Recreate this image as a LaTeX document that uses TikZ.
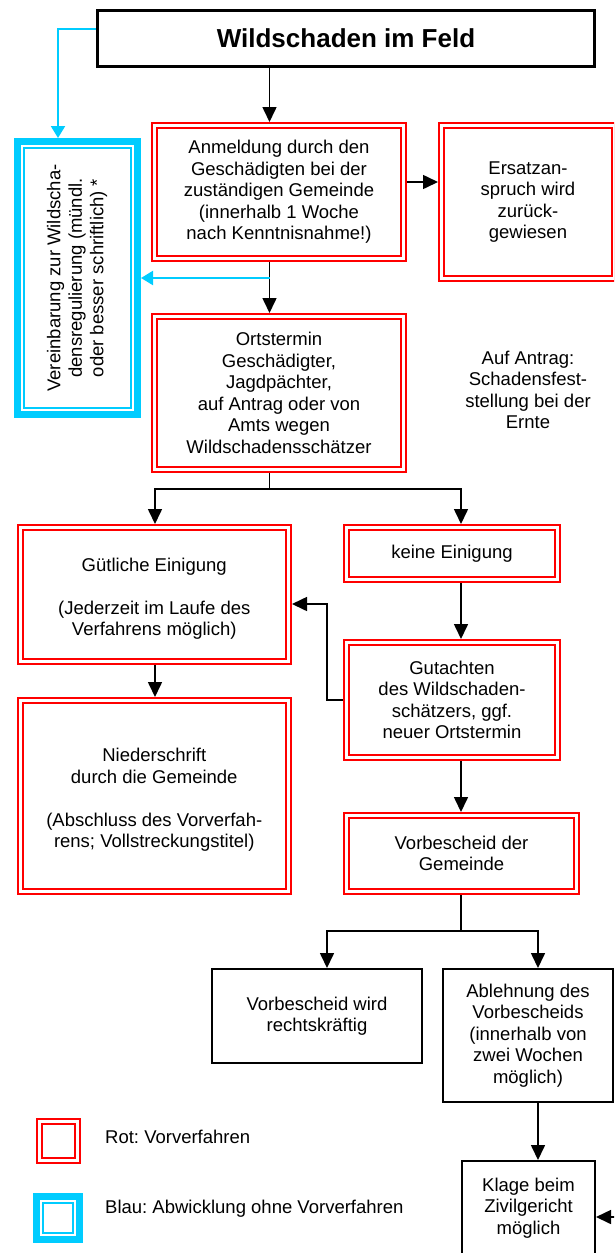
\documentclass[tikz,border=0pt]{standalone}
\usepackage{fontspec}
\setmainfont{Liberation Sans}
\frenchspacing
\usetikzlibrary{arrows.meta}
\definecolor{skyb}{RGB}{0,204,255}
\tikzset{
  txt/.style={font=\fontsize{18.5}{21.5}\selectfont\frenchspacing, align=center, inner sep=0pt},
  titlebox/.style={draw=black, line width=2.7pt, outer sep=1.35pt, inner sep=0pt, font=\fontsize{26}{30}\selectfont\bfseries},
  redbox/.style={txt, draw=red, line width=2.3pt, double=white, double distance=2.7pt, outer sep=3.65pt},
  blackbox/.style={txt, draw=black, line width=2pt, outer sep=1pt},
  bluebox/.style={font=\fontsize{18.5}{21.5}\selectfont\frenchspacing, inner sep=0pt, draw=skyb, line width=7pt, outer sep=3.5pt},
  bluein/.style={draw=skyb, line width=2pt},
  arr/.style={draw=black, line width=1.6pt, -{Triangle[length=15pt,width=14pt]}},
  plainline/.style={draw=black, line width=1.6pt},
  barr/.style={draw=skyb, line width=2.2pt, -{Triangle[length=12pt,width=14pt]}}
}
\begin{document}
\begin{tikzpicture}[x=1pt,y=-1pt]
\useasboundingbox (0,0) rectangle (614,1253);
\clip (0,0) rectangle (614,1253);

% nodes
\node[titlebox, minimum width=497.3pt, minimum height=56.3pt] (title) at (346,38.5) {Wildschaden im Feld};
\node[redbox, minimum width=248.7pt, minimum height=132.7pt] (anm) at (279,192) {Anmeldung durch den\\Geschädigten bei der\\zuständigen Gemeinde\\(innerhalb 1 Woche\\nach Kenntnisnahme!)};
\node[redbox, minimum width=172.7pt, minimum height=152.7pt] (ers) at (528,202) {Ersatzan-\\spruch wird\\zurück-\\gewiesen};
\node[bluebox, minimum width=120pt, minimum height=273pt] (blue) at (77.5,278) {\rotatebox{90}{\begin{tabular}{@{}c@{}}Vereinbarung zur Wildscha-\\densregulierung (mündl.\\oder besser schriftlich) *\end{tabular}}};
\draw[bluein] ([shift={(10,10)}]blue.north west) rectangle ([shift={(-10,-10)}]blue.south east);
\node[redbox, minimum width=248.7pt, minimum height=152.7pt] (ort) at (279,393) {Ortstermin\\Geschädigter,\\Jagdpächter,\\auf Antrag oder von\\Amts wegen\\Wildschadensschätzer};
\node[txt] (antrag) at (528,390) {Auf Antrag:\\Schadensfest-\\stellung bei der\\Ernte};
\node[redbox, minimum width=268.2pt, minimum height=133.7pt] (guet) at (154.25,594.5) {\mbox{}\\Gütliche Einigung\\[21.5pt](Jederzeit im Laufe des\\Verfahrens möglich)};
\node[redbox, minimum width=210.7pt, minimum height=51.7pt] (kein) at (452,553.5) {keine Einigung};
\node[redbox, minimum width=210.7pt, minimum height=114.7pt] (gut) at (452,700) {Gutachten\\des Wildschaden-\\schätzers, ggf.\\neuer Ortstermin};
\node[redbox, minimum width=268.2pt, minimum height=190.7pt] (nied) at (154.25,796) {\mbox{}\\Niederschrift\\durch die Gemeinde\\[21.5pt](Abschluss des Vorverfah-\\rens; Vollstreckungstitel)};
\node[redbox, minimum width=229.7pt, minimum height=75.7pt] (vorb) at (461.5,853.5) {Vorbescheid der\\Gemeinde};
\node[blackbox, minimum width=210pt, minimum height=94pt] (vrk) at (317,1016) {\mbox{}\\[-8pt]Vorbescheid wird\\rechtskräftig};
\node[blackbox, minimum width=170pt, minimum height=133pt] (abl) at (528,1035.5) {Ablehnung des\\Vorbescheids\\(innerhalb von\\zwei Wochen\\möglich)};
\node[blackbox, minimum width=133pt, minimum height=94pt] (klage) at (528.5,1208) {Klage beim\\Zivilgericht\\möglich};

% legend
\node[redbox, minimum width=37.7pt, minimum height=38.7pt] (lr) at (58.5,1141) {};
\node[bluebox, minimum width=43pt, minimum height=43pt] (lb) at (58,1218) {};
\draw[bluein] ([shift={(10,10)}]lb.north west) rectangle ([shift={(-10,-10)}]lb.south east);
\node[txt, anchor=west] (lrt) at (105,1137) {Rot: Vorverfahren};
\node[txt, anchor=west] (lbt) at (105,1209) {Blau: Abwicklung ohne Vorverfahren};

% helper coordinates
\coordinate (xa) at (269.5,0);
\coordinate (xl) at (155,0);
\coordinate (xr) at (461,0);
\coordinate (xm) at (327,0);
\coordinate (xb) at (538,0);
\coordinate (xbl) at (58,0);
\coordinate (ytl) at (0,29);
\coordinate (yer) at (0,182);
\coordinate (ys1) at (0,489);
\coordinate (yq) at (0,604);
\coordinate (ys2) at (0,931);
\coordinate (kin) at (630,1217);

% connectors
\draw[arr] (title.south -| xa) -- (anm.north -| xa);
\draw[arr] (anm.south -| xa) -- (ort.north -| xa);
\draw[barr] (blue.east -| xa) -- (blue.east);
\draw[barr] (title.west |- ytl) -| (blue.north -| xbl);
\draw[arr] (anm.east |- yer) -- (ers.west |- yer);
\draw[plainline] (ort.south -| xa) -- (ys1 -| xa);
\draw[arr] (ys1 -| xa) -| (guet.north -| xl);
\draw[arr] (ys1 -| xa) -| (kein.north -| xr);
\draw[arr] (kein.south -| xr) -- (gut.north -| xr);
\draw[arr] (gut.west) -| (xm |- yq) -- (guet.east |- yq);
\draw[arr] (guet.south -| xl) -- (nied.north -| xl);
\draw[arr] (gut.south -| xr) -- (vorb.north -| xr);
\draw[plainline] (vorb.south -| xr) -- (ys2 -| xr);
\draw[arr] (ys2 -| xr) -| (vrk.north -| xm);
\draw[arr] (ys2 -| xr) -| (abl.north -| xb);
\draw[arr] (abl.south -| xb) -- (klage.north -| xb);
\draw[arr] (kin) -- (kin -| klage.east);
\end{tikzpicture}
\end{document}
